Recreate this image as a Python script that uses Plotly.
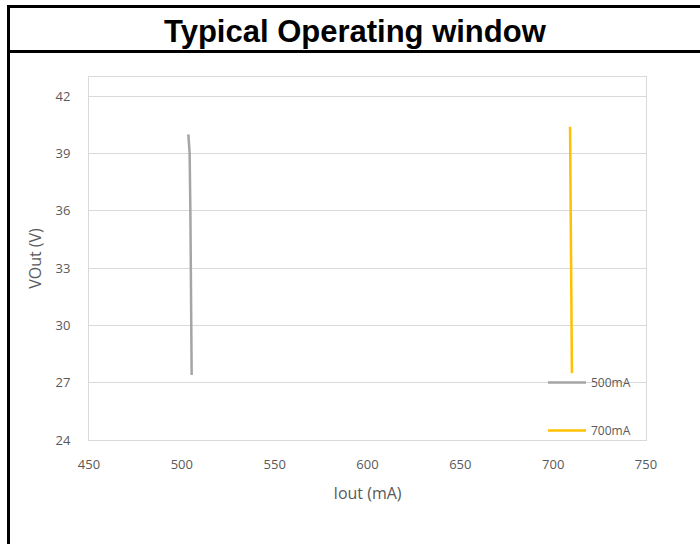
import plotly.graph_objects as go

# Data
series_names = ["500mA", "700mA"]
v_500 = [40.0, 39.0, 36.0, 33.0, 30.0, 27.4]
i_500 = [503.5, 504.2, 504.6, 504.9, 505.1, 505.3]
v_700 = [40.4, 39.0, 36.0, 33.0, 30.0, 27.5]
i_700 = [709.1, 709.2, 709.4, 709.8, 710.0, 710.1]
y_ticks = [24, 27, 30, 33, 36, 39, 42]
x_ticks = [450, 500, 550, 600, 650, 700, 750]

W, H = 700, 544
L, R, T, B = 89, 54, 77, 104
pw, ph = W - L - R, H - T - B

def px_x(px):
    return (px - L) / pw

def px_y(py):
    return (H - B - py) / ph

fig = go.Figure()
fig.add_trace(go.Scatter(x=i_500, y=v_500, mode="lines", name=series_names[0],
                         legendgroup="a",
                         line=dict(color="#a5a5a5", width=2.5)))
fig.add_trace(go.Scatter(x=i_700, y=v_700, mode="lines", name=series_names[1],
                         legendgroup="b",
                         line=dict(color="#ffc000", width=2.5)))

font_main = "Open Sans, Liberation Sans, sans-serif"

fig.update_layout(
    width=W, height=H,
    margin=dict(l=L, r=R, t=T, b=B),
    paper_bgcolor="white", plot_bgcolor="white",
    showlegend=True,
    legend=dict(x=px_x(543), y=px_y(368), xanchor="left", yanchor="top",
                bgcolor="rgba(0,0,0,0)", tracegroupgap=29, itemwidth=38,
                font=dict(family=font_main, size=12, color="#595959")),
    xaxis=dict(range=[450, 750], tickvals=x_ticks, showgrid=False,
               showline=True, mirror=True, linecolor="#d9d9d9", linewidth=1,
               zeroline=False, ticks="", ticklabelstandoff=12,
               tickfont=dict(family=font_main, size=13, color="#595959"),
               title=dict(text="Iout (mA)", standoff=16,
                          font=dict(family=font_main, size=16, color="#595959"))),
    yaxis=dict(range=[24, 43], tickvals=y_ticks, showgrid=True,
               gridcolor="#d9d9d9", gridwidth=1,
               showline=True, mirror=True, linecolor="#d9d9d9", linewidth=1,
               zeroline=False, ticks="", ticklabelstandoff=15,
               tickfont=dict(family=font_main, size=13, color="#595959"),
               title=dict(text="VOut (V)", standoff=9,
                          font=dict(family=font_main, size=16, color="#595959"))),
)

# Outer black frame and title box
frame = dict(color="black", width=3)
fig.add_shape(type="line", xref="paper", yref="paper",
              x0=px_x(8.5), x1=px_x(8.5), y0=px_y(5), y1=px_y(560), line=frame)
fig.add_shape(type="line", xref="paper", yref="paper",
              x0=px_x(7), x1=px_x(710), y0=px_y(6.5), y1=px_y(6.5), line=frame)
fig.add_shape(type="line", xref="paper", yref="paper",
              x0=px_x(7), x1=px_x(710), y0=px_y(51.5), y1=px_y(51.5), line=frame)

fig.add_annotation(text="<b>Typical Operating window</b>", xref="paper", yref="paper",
                   x=px_x(355.5), y=px_y(32), xanchor="center", yanchor="middle",
                   showarrow=False,
                   font=dict(family="Liberation Sans, Arial, sans-serif", size=31, color="black"))

fig.write_html("out.html", config={"displayModeBar": False},
               post_script="document.body.style.margin='0';document.body.style.padding='0';")
